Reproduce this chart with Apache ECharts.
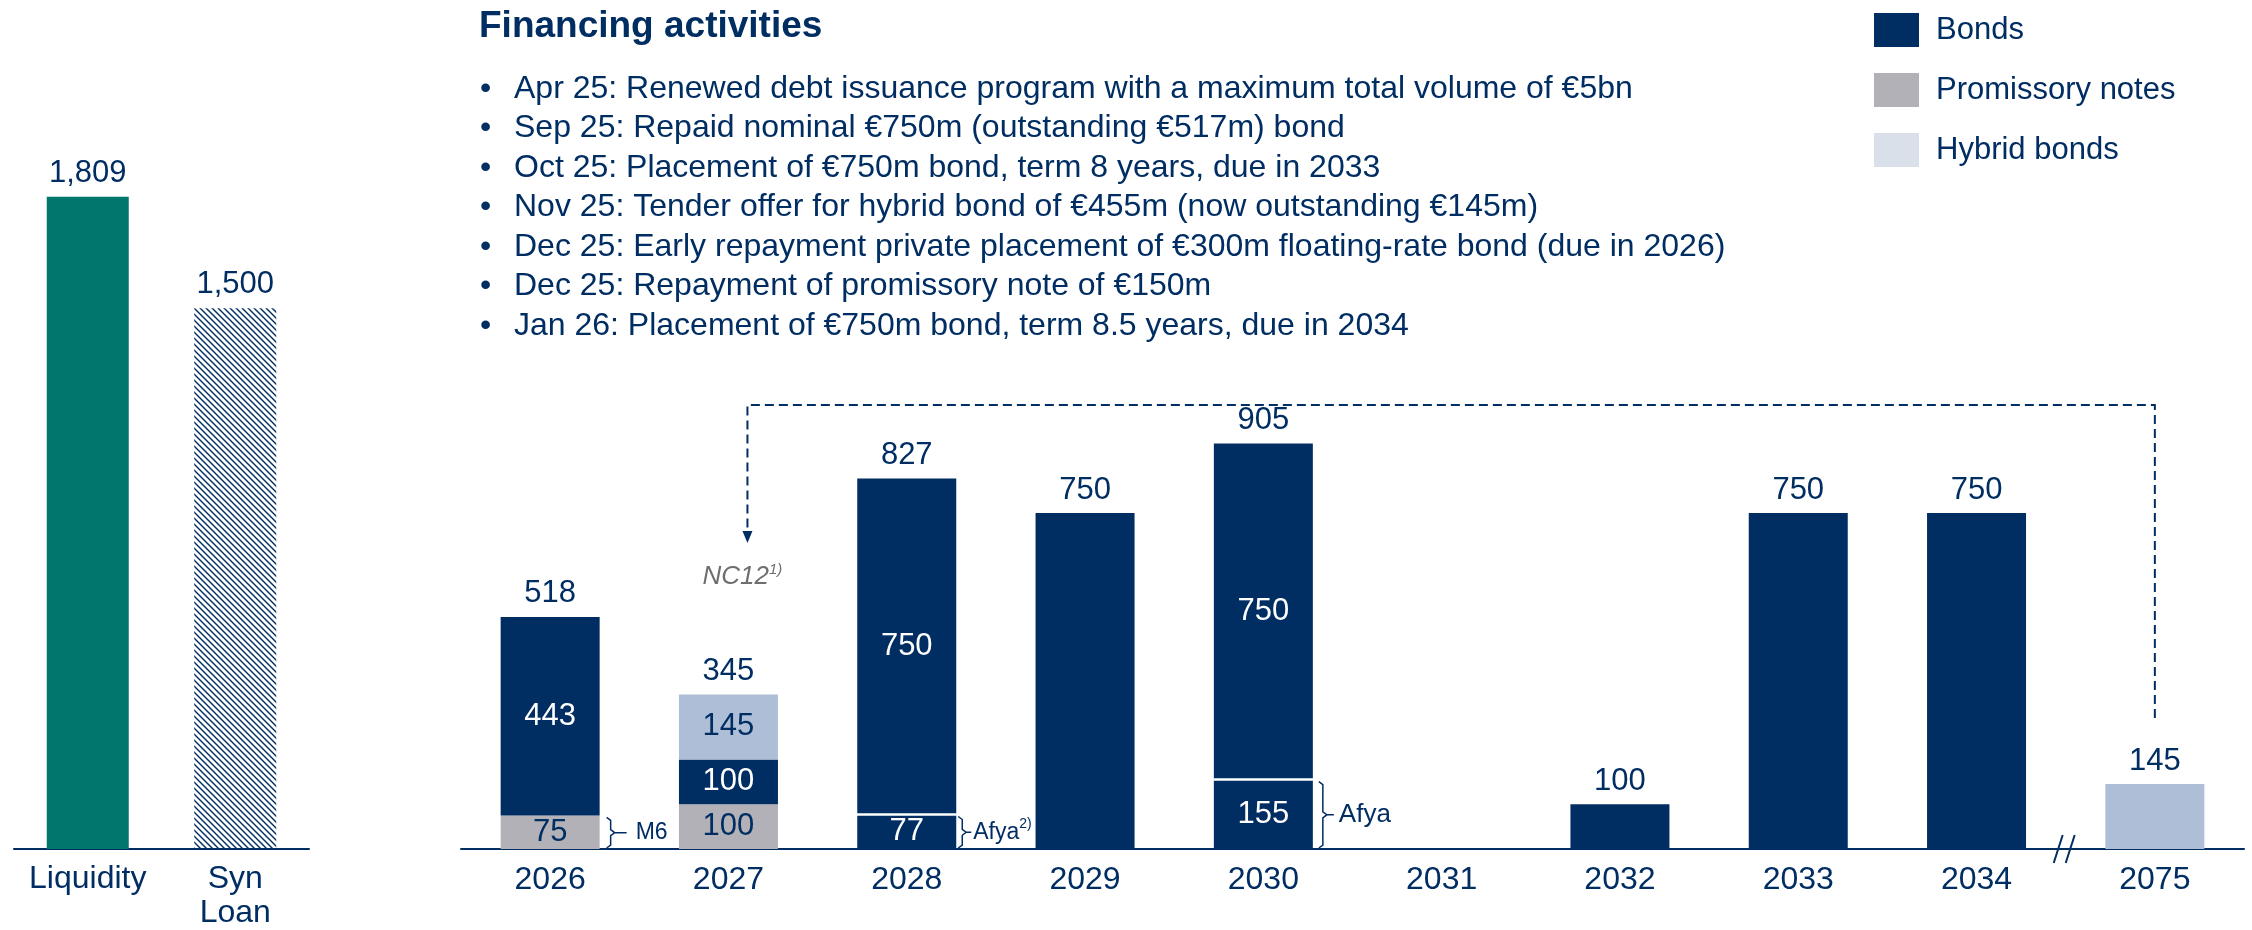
<!DOCTYPE html>
<html>
<head>
<meta charset="utf-8">
<title>Financing activities</title>
<script src="https://cdn.jsdelivr.net/npm/echarts@6/dist/echarts.min.js"></script>
<style>
  html, body { margin: 0; padding: 0; background: #fff; }
  #chart { width: 2252px; height: 930px; }
</style>
</head>
<body>
<div id="chart"></div>
<script>
// left block: liquidity
var liquidityCats = ['Liquidity', 'Syn\nLoan'];
var liquidityValues = [1809, 1500];

// maturity profile (EUR m)
var years = ['2026', '2027', '2028', '2029', '2030', '2031', '2032', '2033', '2034', '2075'];
var promissoryNotes = [75, 100, null, null, null, null, null, null, null, null];
var bondsAfya = [null, null, 77, null, 155, null, null, null, null, null];
var bonds = [443, 100, 750, 750, 750, null, 100, 750, 750, null];
var hybridBonds = [null, 145, null, null, null, null, null, null, null, 145];
var totals = [518, 345, 827, 750, 905, null, 100, 750, 750, 145];

var bullets = [
  'Apr 25: Renewed debt issuance program with a maximum total volume of €5bn',
  'Sep 25: Repaid nominal €750m (outstanding €517m) bond',
  'Oct 25: Placement of €750m bond, term 8 years, due in 2033',
  'Nov 25: Tender offer for hybrid bond of €455m (now outstanding €145m)',
  'Dec 25: Early repayment private placement of €300m floating-rate bond (due in 2026)',
  'Dec 25: Repayment of promissory note of €150m',
  'Jan 26: Placement of €750m bond, term 8.5 years, due in 2034'
];

// brackets next to segments: [year index, from, to, text, superscript]
var braceNotes = [
  [0, 0, 75, 'M6', ''],
  [2, 0, 77, 'Afya', '2)'],
  [4, 0, 155, 'Afya', '']
];

var NAVY = '#002D62';
var GREY = '#B2B1B7';
var HYBRID = '#AEBED6';
var TEAL = '#00776D';
var FONT = '"Liberation Sans", Arial, sans-serif';

var chart = echarts.init(document.getElementById('chart'));

function hatch() {
  var c = document.createElement('canvas');
  c.width = 6; c.height = 6;
  var g = c.getContext('2d');
  g.strokeStyle = NAVY;
  g.lineWidth = 1.4;
  for (var o = -6; o <= 6; o += 6) {
    g.beginPath();
    g.moveTo(o - 1, -1);
    g.lineTo(o + 7, 7);
    g.stroke();
  }
  return c;
}

function innerLabel(p) {
  return totals[p.dataIndex] !== p.value ? p.value : '';
}

var option = {
  animation: false,
  textStyle: { fontFamily: FONT },
  legend: {
    orient: 'vertical',
    left: 1869,
    top: 8,
    itemWidth: 45,
    itemHeight: 34,
    itemGap: 26,
    icon: 'rect',
    selectedMode: false,
    textStyle: { color: NAVY, fontSize: 31, padding: [0, 0, 0, 12] },
    data: ['Bonds', 'Promissory notes', { name: 'Hybrid bonds', itemStyle: { color: '#D9E0EA' } }]
  },
  grid: [
    { left: 14, width: 295, top: 128, height: 721 },
    { left: 461, right: 8, top: 401, height: 448 }
  ],
  xAxis: [
    {
      gridIndex: 0, type: 'category', data: liquidityCats,
      axisLine: { lineStyle: { color: NAVY, width: 2 } },
      axisTick: { show: false },
      axisLabel: { color: NAVY, fontSize: 32, lineHeight: 34, margin: 13, interval: 0 }
    },
    {
      gridIndex: 1, type: 'category', data: years,
      axisLine: { lineStyle: { color: NAVY, width: 2 } },
      axisTick: { show: false },
      axisLabel: { color: NAVY, fontSize: 32, lineHeight: 34, margin: 14, interval: 0 }
    }
  ],
  yAxis: [
    { gridIndex: 0, type: 'value', min: 0, max: 2000, show: false },
    { gridIndex: 1, type: 'value', min: 0, max: 1000, show: false }
  ],
  series: [
    {
      name: 'Liquidity', type: 'bar', xAxisIndex: 0, yAxisIndex: 0, barWidth: 82,
      data: liquidityValues.map(function (v, i) {
        return { value: v, itemStyle: { color: i === 0 ? TEAL : { image: hatch(), repeat: 'repeat' } } };
      }),
      label: {
        show: true, position: 'top', distance: 8, color: NAVY, fontSize: 31,
        formatter: function (p) { return p.value.toLocaleString('en-US'); }
      }
    },
    {
      name: 'Promissory notes', type: 'bar', stack: 'm', xAxisIndex: 1, yAxisIndex: 1, barWidth: 99,
      data: promissoryNotes, itemStyle: { color: GREY },
      label: { show: true, position: 'inside', color: NAVY, fontSize: 31, formatter: innerLabel }
    },
    {
      name: 'Bonds Afya', type: 'bar', stack: 'm', xAxisIndex: 1, yAxisIndex: 1, barWidth: 99,
      data: bondsAfya, itemStyle: { color: NAVY },
      label: { show: true, position: 'inside', color: '#fff', fontSize: 31, formatter: innerLabel }
    },
    {
      name: 'Bonds', type: 'bar', stack: 'm', xAxisIndex: 1, yAxisIndex: 1, barWidth: 99,
      data: bonds, itemStyle: { color: NAVY },
      label: { show: true, position: 'inside', color: '#fff', fontSize: 31, formatter: innerLabel }
    },
    {
      name: 'Hybrid bonds', type: 'bar', stack: 'm', xAxisIndex: 1, yAxisIndex: 1, barWidth: 99,
      data: hybridBonds, itemStyle: { color: HYBRID },
      label: { show: true, position: 'inside', color: NAVY, fontSize: 31, formatter: innerLabel }
    },
    {
      name: 'Total', type: 'scatter', xAxisIndex: 1, yAxisIndex: 1, silent: true,
      data: totals, symbolSize: 1, itemStyle: { color: 'rgba(0,0,0,0)', opacity: 1 },
      label: { show: true, position: 'top', distance: 7, color: NAVY, fontSize: 31, opacity: 1 }
    }
  ]
};

chart.setOption(option);

// annotations positioned from the chart's own scales
function px(i, v) { return chart.convertToPixel({ gridIndex: 1 }, [i, v]); }

var graphic = [];
graphic.push({
  type: 'text', x: 479, y: 27,
  style: { text: 'Financing activities', fill: NAVY, font: 'bold 37px ' + FONT, textVerticalAlign: 'middle' }
});
bullets.forEach(function (t, i) {
  var y = 89 + i * 39.5;
  graphic.push({ type: 'text', x: 480, y: y, style: { text: '•', fill: NAVY, font: '32px ' + FONT, textVerticalAlign: 'middle' } });
  graphic.push({ type: 'text', x: 514, y: y, style: { text: t, fill: NAVY, font: '32px ' + FONT, textVerticalAlign: 'middle' } });
});

// white separator on top of the Afya segments
braceNotes.forEach(function (n) {
  if (n[3] !== 'Afya') return;
  var p = px(n[0], n[2]);
  graphic.push({
    type: 'line', z: 10,
    shape: { x1: p[0] - 50, y1: p[1], x2: p[0] + 50, y2: p[1] },
    style: { stroke: '#fff', lineWidth: 2.5 }
  });
});

// brace gap, tick length, text gap
var braceGeom = [[7, 12, 9], [2, 5, 2], [6, 7, 5]];
var braceFont = [23, 23, 26];
braceNotes.forEach(function (n, k) {
  var half = 49.5;
  var pBot = px(n[0], n[1]);
  var pTop = px(n[0], n[2]);
  var g = braceGeom[k];
  var x = pBot[0] + half + g[0];
  var y0 = pTop[1] + 2, y1 = pBot[1] - 1, m = (y0 + y1) / 2;
  graphic.push({
    type: 'polyline',
    shape: { points: [[x, y0], [x + 4, y0 + 3], [x + 4, m - 3], [x + 8, m], [x + 8 + g[1], m], [x + 8, m], [x + 4, m + 3], [x + 4, y1 - 3], [x, y1]] },
    style: { stroke: NAVY, lineWidth: 1.5, fill: null }
  });
  graphic.push({
    type: 'text', x: x + 8 + g[1] + g[2], y: m,
    style: {
      text: '{a|' + n[3] + '}' + (n[4] ? '{s|' + n[4] + '}' : ''),
      textVerticalAlign: 'middle',
      rich: {
        a: { fill: NAVY, fontSize: braceFont[k], fontFamily: FONT, lineHeight: 30 },
        s: { fill: NAVY, fontSize: 14, fontFamily: FONT, lineHeight: 14, verticalAlign: 'top' }
      }
    }
  });
});

// dashed link from the 2075 hybrid to its first call date
var xR = px(9, 0)[0];
var xL = px(1, 0)[0] + 19;
graphic.push({
  type: 'polyline',
  shape: { points: [[xR, 718], [xR, 405], [xL, 405], [xL, 532]] },
  style: { stroke: NAVY, lineWidth: 2, lineDash: [9, 5], fill: null }
});
graphic.push({
  type: 'polygon',
  shape: { points: [[xL - 5, 531], [xL + 5, 531], [xL, 543]] },
  style: { fill: NAVY }
});
graphic.push({
  type: 'text', x: xL - 5, y: 577,
  style: {
    text: '{a|NC12}{s|1)}', textAlign: 'center', textVerticalAlign: 'middle',
    rich: {
      a: { fill: '#6F6F6F', fontSize: 26, fontStyle: 'italic', fontFamily: FONT, lineHeight: 30 },
      s: { fill: '#6F6F6F', fontSize: 15, fontStyle: 'italic', fontFamily: FONT, lineHeight: 15, verticalAlign: 'top' }
    }
  }
});

// axis break between 2034 and 2075
var xb = (px(8, 0)[0] + px(9, 0)[0]) / 2 - 1;
var yb = px(9, 0)[1];
graphic.push({ type: 'rect', shape: { x: xb - 6, y: yb - 3, width: 12, height: 6 }, style: { fill: '#fff' } });
graphic.push({ type: 'line', shape: { x1: xb - 11, y1: yb + 14, x2: xb - 2, y2: yb - 14 }, style: { stroke: NAVY, lineWidth: 2 } });
graphic.push({ type: 'line', shape: { x1: xb + 1, y1: yb + 14, x2: xb + 10, y2: yb - 14 }, style: { stroke: NAVY, lineWidth: 2 } });

chart.setOption({ graphic: graphic });
</script>
</body>
</html>
